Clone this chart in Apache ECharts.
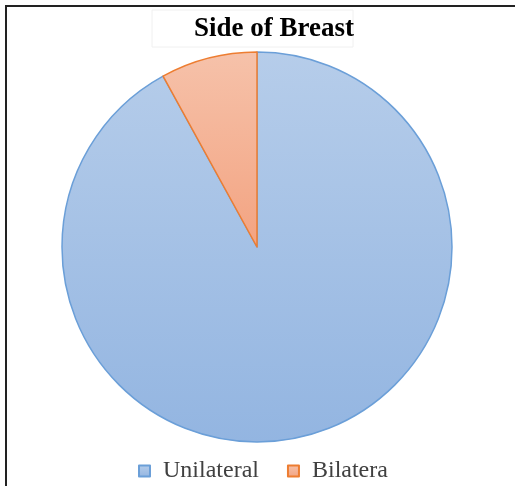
<!DOCTYPE html>
<html>
<head>
<meta charset="utf-8">
<script src="https://cdn.jsdelivr.net/npm/echarts@6/dist/echarts.min.js"></script>
<style>
  html, body { margin: 0; padding: 0; background: #fff; }
  #chart { width: 515px; height: 486px; }
</style>
</head>
<body>
<div id="chart"></div>
<script>
// 数据
var categories = ["Unilateral", "Bilatera"];
var values = [92, 8];

var fills = [
  ["#b6cdea", "#93b5e1"],
  ["#f6c2aa", "#f3a381"]
];
var borders = ["#6b9fd8", "#ed7d31"];

var chart = echarts.init(document.getElementById("chart"));

var pieData = categories.map(function (name, i) {
  return {
    name: name,
    value: values[i],
    itemStyle: {
      color: new echarts.graphic.LinearGradient(0, 0, 0, 1, [
        { offset: 0, color: fills[i][0] },
        { offset: 1, color: fills[i][1] }
      ]),
      borderColor: borders[i],
      borderWidth: 1.5
    }
  };
});

chart.setOption({
  animation: false,
  backgroundColor: "#fff",
  graphic: [
    // 外框
    {
      type: "rect",
      shape: { x: 6, y: 6, width: 530, height: 500 },
      style: { fill: "none", stroke: "#222", lineWidth: 2 }
    },
    // 标题框（很淡）
    {
      type: "rect",
      shape: { x: 152, y: 10, width: 201, height: 37 },
      style: { fill: "none", stroke: "#f0f0f0", lineWidth: 1 }
    }
  ],
  title: {
    text: "Side of Breast",
    left: 269,
    top: 11,
    textAlign: "center",
    textStyle: {
      fontFamily: "Liberation Serif",
      fontWeight: "bold",
      fontSize: 27,
      color: "#000"
    }
  },
  legend: {
    data: categories,
    top: 454,
    left: 133,
    itemWidth: 11,
    itemHeight: 11,
    itemGap: 28,
    icon: "rect",
    textStyle: {
      fontFamily: "Liberation Serif",
      fontSize: 24,
      color: "#404040",
      padding: [0, 0, 0, 8]
    }
  },
  series: [
    {
      type: "pie",
      center: [257, 247],
      radius: 195,
      startAngle: 90,
      clockwise: true,
      label: { show: false },
      labelLine: { show: false },
      emphasis: { disabled: true },
      data: pieData
    }
  ]
});
</script>
</body>
</html>
